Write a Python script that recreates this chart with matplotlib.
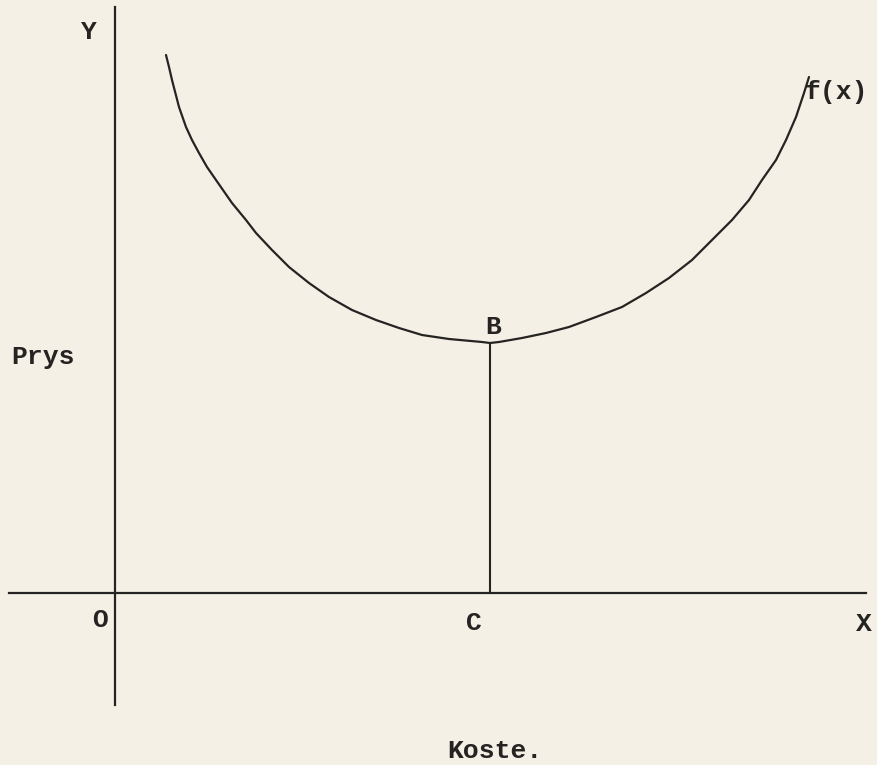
import matplotlib
matplotlib.use("Agg")
import matplotlib.pyplot as plt

# curve f(x) (units: origin at O, y up)
curve_x = [51, 54, 57, 64, 71, 77, 84, 92, 101, 117, 131, 141, 157, 174, 194, 214,
           237, 261, 284, 307, 334, 367, 375, 384, 407, 431, 454, 481, 507, 531,
           554, 577, 597, 617, 634, 647, 661, 671, 681, 689, 694]
curve_y = [538, 526, 513, 486, 466, 453, 440, 426, 413, 390, 373, 360, 343, 326, 310, 296,
           283, 273, 265, 258, 254, 251, 250, 251, 255, 260, 266, 276, 286, 300,
           315, 333, 353, 373, 393, 413, 433, 453, 476, 500, 516]

# minimum point B and its foot C on the cost axis
b_x = 375
b_y = 248

x_axis = [-106, 751]
y_axis = [586, -112]

LINE = "#262422"
PAPER = "#f4f0e5"
FONT = ["Liberation Mono", "DejaVu Sans Mono"]

fig = plt.figure(figsize=(8.77, 7.65), dpi=100, facecolor=PAPER)
ax = fig.add_axes([0, 0, 1, 1])
ax.set_facecolor(PAPER)
ax.set_xlim(-115, 762)
ax.set_ylim(-172, 593)
ax.axis("off")

ax.plot(x_axis, [0, 0], color=LINE, lw=1.6)
ax.plot([0, 0], y_axis, color=LINE, lw=1.6)
ax.plot(curve_x, curve_y, color=LINE, lw=1.6, solid_capstyle="round",
        solid_joinstyle="round")
ax.plot([b_x, b_x], [0, b_y], color=LINE, lw=1.5)

txt = dict(family=FONT, fontsize=19, color=LINE, fontweight="bold")
ax.text(-26, 561, "Y", ha="center", va="center", **txt)
ax.text(-104, 236, "Prys", ha="left", va="center", **txt)
ax.text(-15, -27, "O", ha="center", va="center", **txt)
ax.text(359, -30, "C", ha="center", va="center", **txt)
ax.text(749, -31, "X", ha="center", va="center", **txt)
ax.text(378, 266, "B", ha="center", va="center", **txt)
ax.text(690, 501, "f(x)", ha="left", va="center", **txt)
ax.text(332, -158, "Koste.", ha="left", va="center", **txt)

fig.savefig("out.png", dpi=100, facecolor=PAPER)
